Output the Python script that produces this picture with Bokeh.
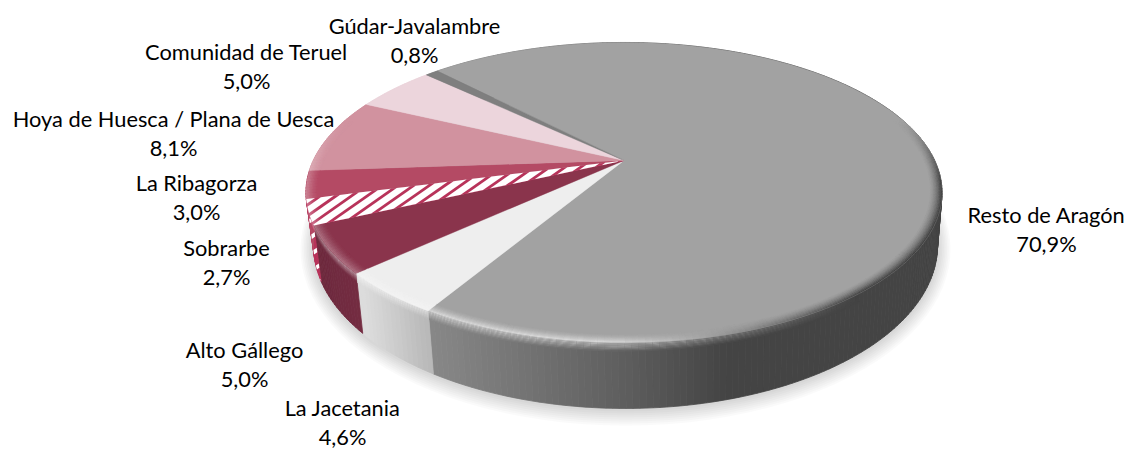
import math
from bokeh.plotting import figure
from bokeh.embed import file_html
from bokeh.resources import INLINE
from bokeh.core.properties import value

# ---------- data ----------
regions = ["Resto de Aragón", "La Jacetania", "Alto Gállego", "Sobrarbe", "La Ribagorza",
           "Hoya de Huesca / Plana de Uesca", "Comunidad de Teruel", "Gúdar-Javalambre"]
shares = [70.9, 4.6, 5.0, 2.7, 3.0, 8.1, 5.0, 0.8]
share_labels = ["70,9%", "4,6%", "5,0%", "2,7%", "3,0%", "8,1%", "5,0%", "0,8%"]
top_colors = ["#a2a2a2", "#eeeeee", "#8a344c", "#b8335a", "#b44a64", "#d1929f", "#ecd5dc", "#7f7f7f"]

# ---------- layout (page pixels, y down) ----------
W, H = 1127, 450
label_x = [1046, 342, 244, 226, 196, 173, 246, 414]
label_y = [214, 407, 349, 247, 182, 118, 51, 25]
LINE = 29
FIRST_ANGLE = 31.0     # degrees clockwise from the viewer-facing point
TOP = dict(cx=623.5, cy=160.0, a=310.7, b=143.2, k=0.2133)
LOW = dict(cx=625.0, cy=210.3, a=304.8, b=155.5, k=0.2133)

def proj(par, deg, r=1.0):
    t = math.radians(deg)
    u, v = -math.sin(t) * r, math.cos(t) * r
    d = 1 - par["k"] * v
    return par["cx"] + par["a"] * u / d, par["cy"] + par["b"] * v / d

def hex2(c):
    return [int(c[i:i + 2], 16) for i in (1, 3, 5)]

def mix(c1, c2, t):
    t = max(0.0, min(1.0, t))
    a, b = hex2(c1), hex2(c2)
    return "#%02x%02x%02x" % tuple(round(a[i] + (b[i] - a[i]) * t) for i in range(3))

def ramp(stops, x):
    if x <= stops[0][0]:
        return stops[0][1]
    for (x0, c0), (x1, c1) in zip(stops, stops[1:]):
        if x <= x1:
            return mix(c0, c1, (x - x0) / (x1 - x0))
    return stops[-1][1]

def clip(poly, nx, ny, c):
    out = []
    for i in range(len(poly)):
        A, B = poly[i], poly[(i + 1) % len(poly)]
        da, db = A[0] * nx + A[1] * ny - c, B[0] * nx + B[1] * ny - c
        if da >= 0:
            out.append(A)
        if (da >= 0) != (db >= 0):
            s = da / (da - db)
            out.append((A[0] + (B[0] - A[0]) * s, A[1] + (B[1] - A[1]) * s))
    return out

def stripes(poly, period, white):
    """White diagonal stripes clipped to a polygon."""
    nx, ny = 0.574, 0.819
    sx, sy = [], []
    c = 300.0
    while c < 1000:
        part = clip(clip(poly, nx, ny, c), -nx, -ny, -(c + white))
        if len(part) >= 3:
            sx.append([q[0] for q in part])
            sy.append([q[1] for q in part])
        c += period
    return sx, sy

wall_ramps = [
    [(433, "#878787"), (520, "#747474"), (630, "#5c5c5c"), (725, "#444444")],
    [(362, "#dcdcdc"), (433, "#b4b4b4")],
    [(316, "#6e2a3e"), (362, "#752c42")],
    [(300, "#b8335a")],
    [(300, "#b44a64")],
    [(300, "#d1929f")],
    [(300, "#ecd5dc")],
    [(300, "#7f7f7f")],
]

# slice angular extents, clockwise; Resto ends where La Jacetania begins
per_deg = 3.6
bounds = []
ang = FIRST_ANGLE
for s in shares[1:]:
    bounds.append((ang, ang + s * per_deg))
    ang += s * per_deg
extent = [(ang, FIRST_ANGLE + 360)] + bounds

p = figure(width=W, height=H, x_range=(0, W), y_range=(H, 0),
           output_backend="svg", toolbar_location=None, min_border=0)
p.axis.visible = False
p.grid.visible = False
p.outline_line_color = None
p.background_fill_color = "white"
p.border_fill_color = "white"

# soft shadow below the disc
circle = [i * 3.0 for i in range(121)]
for i in range(8, 0, -1):
    off = i * 1.6
    xs = [proj(LOW, d)[0] + (proj(LOW, d)[0] - LOW["cx"]) / LOW["a"] * off for d in circle]
    ys = [proj(LOW, d)[1] + 1 + max(0, (proj(LOW, d)[1] - LOW["cy"])) / LOW["b"] * off for d in circle]
    p.patch(xs, ys, fill_color="#000000", fill_alpha=0.02, line_color=None)

# wall: base first, bevel glow in a separate pass
step = 1.0
BANDS = 8
BAND_T = 9.0

def along(pa, pb, f):
    h = f * BAND_T / max(1.0, pb[1] - pa[1])
    return pa[0] + (pb[0] - pa[0]) * h, pa[1] + (pb[1] - pa[1]) * h

qx, qy, qc, gx, gy, gc = [], [], [], [], [], []
for (a0, a1), stops in zip(extent, wall_ramps):
    n = max(2, int((a1 - a0) / step))
    for j in range(n):
        d0 = a0 + (a1 - a0) * j / n
        d1 = a0 + (a1 - a0) * (j + 1) / n
        t0, t1 = proj(TOP, d0), proj(TOP, d1)
        l0, l1 = proj(LOW, d0), proj(LOW, d1)
        base = ramp(stops, (t0[0] + t1[0]) / 2)
        qx.append([t0[0], t1[0], l1[0], l0[0]])
        qy.append([t0[1], t1[1], l1[1], l0[1]])
        qc.append(base)
        light = max(0.0, min(1.0, (860 - t0[0]) / 240))
        if light <= 0 or t0[1] < TOP["cy"] + 30:
            continue
        glow = mix(base, "#ffffff", 0.6 * light)
        for b in range(BANDS):
            f0, f1 = b / BANDS, (b + 1) / BANDS
            q0, q1, q2, q3 = along(t0, l0, f0), along(t1, l1, f0), along(t1, l1, f1), along(t0, l0, f1)
            gx.append([q0[0], q1[0], q2[0], q3[0]])
            gy.append([q0[1], q1[1], q2[1], q3[1]])
            gc.append(mix(glow, base, (b + 0.5) / BANDS))
p.patches(qx, qy, fill_color=qc, line_color=qc, line_width=0.8)
p.patches(gx, gy, fill_color=gc, line_color=None)

# hatching on the visible sliver of the Sobrarbe wall
a0, a1 = extent[3]
wall_poly = [proj(TOP, a0 + (a1 - a0) * j / 10) for j in range(11)] + \
            [proj(LOW, a1 - (a1 - a0) * j / 10) for j in range(11)]
wx, wy = stripes(wall_poly, 14.0, 4.0)
p.patches(wx, wy, fill_color="#ffffff", line_color=None)

# top face
for (a0, a1), col in zip(extent, top_colors):
    n = max(2, int((a1 - a0) / step))
    xs, ys = [TOP["cx"]], [TOP["cy"]]
    for j in range(n + 1):
        x, y = proj(TOP, a0 + (a1 - a0) * j / n)
        xs.append(x)
        ys.append(y)
    p.patch(xs, ys, fill_color=col, line_color=col, line_width=0.4)

# top-face bevel ring
rx, ry, rc = [], [], []
RINGS = 8
R_IN = 0.965
for (a0, a1), col in zip(extent, top_colors):
    n = max(2, int((a1 - a0) / step))
    for j in range(n):
        d0 = a0 + (a1 - a0) * j / n
        d1 = a0 + (a1 - a0) * (j + 1) / n
        mx, my = proj(TOP, (d0 + d1) / 2)
        strength = max(0.0, min(1.0, (my - (TOP["cy"] - 40)) / 60))
        if strength <= 0:
            continue
        light = max(0.0, min(1.0, (860 - mx) / 240))
        if col == "#a2a2a2":
            edge = mix("#444444", "#d8d8d8", light)
        else:
            edge = mix(col, "#ffffff", 0.3)
        edge = mix(col, edge, strength)
        for r in range(RINGS):
            r0 = R_IN + (1 - R_IN) * r / RINGS
            r1 = R_IN + (1 - R_IN) * (r + 1) / RINGS
            pts = [proj(TOP, d0, r0), proj(TOP, d1, r0), proj(TOP, d1, r1), proj(TOP, d0, r1)]
            rx.append([q[0] for q in pts])
            ry.append([q[1] for q in pts])
            rc.append(mix(col, edge, ((r + 1) / RINGS) ** 1.5))
p.patches(rx, ry, fill_color=rc, line_color=rc, line_width=0.3)

# hatching of the Sobrarbe wedge, over the ring so it reaches the rim
a0, a1 = extent[3]
wedge = [(TOP["cx"], TOP["cy"])] + [proj(TOP, a0 + (a1 - a0) * j / 10) for j in range(11)]
sx, sy = stripes(wedge, 9.0, 6.2)
p.patches(sx, sy, fill_color="#ffffff", line_color=None)

# labels
tx, ty, tt = [], [], []
for name, pct, x, y in zip(regions, share_labels, label_x, label_y):
    tx += [x, x]
    ty += [y, y + LINE]
    tt += [name, pct]
p.text(tx, ty, text=tt, text_font=value("Lato"), text_font_size="21.8px", text_color="#000000",
       text_align="center", text_baseline="middle")

open("out.html", "w").write(file_html(p, INLINE))
